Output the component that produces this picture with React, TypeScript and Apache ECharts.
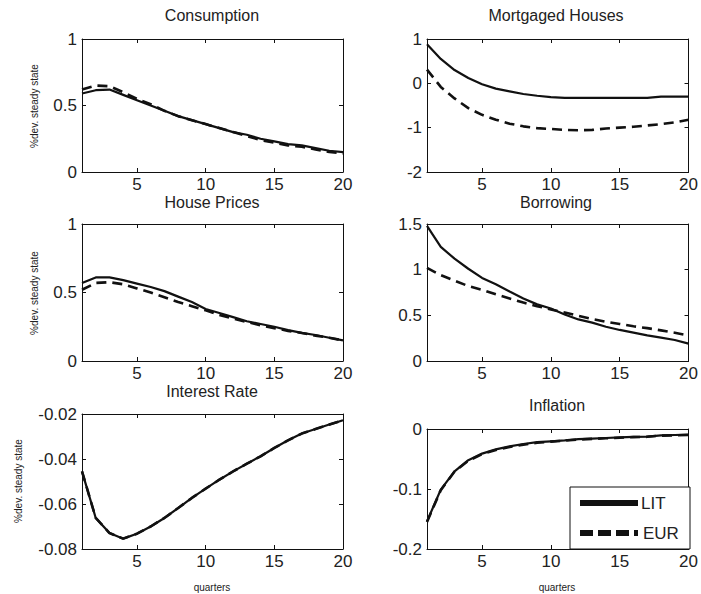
import React, { useEffect, useRef } from "react";
import * as echarts from "echarts";

const quarters = [1, 2, 3, 4, 5, 6, 7, 8, 9, 10, 11, 12, 13, 14, 15, 16, 17, 18, 19, 20];
const xTicks = [5, 10, 15, 20];

const consumptionLIT = [0.59, 0.615, 0.62, 0.58, 0.54, 0.5, 0.46, 0.42, 0.39, 0.36, 0.33, 0.3, 0.28, 0.25, 0.23, 0.21, 0.2, 0.18, 0.16, 0.15];
const consumptionEUR = [0.62, 0.65, 0.645, 0.6, 0.55, 0.51, 0.46, 0.42, 0.39, 0.36, 0.33, 0.3, 0.27, 0.24, 0.22, 0.2, 0.19, 0.17, 0.15, 0.14];

const mortgagedLIT = [0.88, 0.55, 0.3, 0.12, -0.02, -0.12, -0.18, -0.24, -0.28, -0.31, -0.33, -0.33, -0.33, -0.33, -0.33, -0.33, -0.33, -0.3, -0.3, -0.3];
const mortgagedEUR = [0.31, -0.08, -0.34, -0.56, -0.71, -0.82, -0.91, -0.97, -1.01, -1.03, -1.05, -1.06, -1.05, -1.02, -1.0, -0.98, -0.95, -0.92, -0.88, -0.82];

const housePricesLIT = [0.57, 0.61, 0.61, 0.59, 0.565, 0.54, 0.51, 0.47, 0.43, 0.38, 0.35, 0.32, 0.29, 0.27, 0.25, 0.225, 0.205, 0.19, 0.17, 0.15];
const housePricesEUR = [0.52, 0.57, 0.575, 0.56, 0.53, 0.5, 0.465, 0.43, 0.4, 0.37, 0.335, 0.31, 0.285, 0.26, 0.24, 0.22, 0.205, 0.185, 0.17, 0.15];

const borrowingLIT = [1.48, 1.25, 1.12, 1.01, 0.91, 0.84, 0.76, 0.685, 0.62, 0.575, 0.51, 0.455, 0.42, 0.375, 0.34, 0.31, 0.28, 0.255, 0.23, 0.19];
const borrowingEUR = [1.02, 0.94, 0.88, 0.82, 0.78, 0.73, 0.685, 0.64, 0.6, 0.565, 0.53, 0.495, 0.46, 0.43, 0.405, 0.38, 0.36, 0.335, 0.31, 0.28];

const interestLIT = [-0.0455, -0.0662, -0.0729, -0.0754, -0.0732, -0.07, -0.0662, -0.0618, -0.0573, -0.0532, -0.0492, -0.0455, -0.0421, -0.0388, -0.0351, -0.0317, -0.0287, -0.0267, -0.0247, -0.0228];
const interestEUR = [-0.0455, -0.0662, -0.0729, -0.0754, -0.0732, -0.07, -0.0662, -0.0618, -0.0573, -0.0532, -0.0492, -0.0455, -0.0421, -0.0388, -0.0351, -0.0317, -0.0287, -0.0267, -0.0247, -0.0228];

const inflationLIT = [-0.154, -0.101, -0.0706, -0.052, -0.041, -0.034, -0.029, -0.025, -0.022, -0.0205, -0.019, -0.017, -0.016, -0.015, -0.014, -0.013, -0.0128, -0.0105, -0.01, -0.0095];
const inflationEUR = [-0.155, -0.102, -0.071, -0.053, -0.042, -0.035, -0.03, -0.026, -0.023, -0.021, -0.0195, -0.0175, -0.0165, -0.0155, -0.0145, -0.0135, -0.013, -0.011, -0.0105, -0.01];

const panels = [
  { title: "Consumption", lit: consumptionLIT, eur: consumptionEUR, yMin: 0, yMax: 1, yInt: 0.5 },
  { title: "Mortgaged Houses", lit: mortgagedLIT, eur: mortgagedEUR, yMin: -2, yMax: 1, yInt: 1 },
  { title: "House Prices", lit: housePricesLIT, eur: housePricesEUR, yMin: 0, yMax: 1, yInt: 0.5 },
  { title: "Borrowing", lit: borrowingLIT, eur: borrowingEUR, yMin: 0, yMax: 1.5, yInt: 0.5 },
  { title: "Interest Rate", lit: interestLIT, eur: interestEUR, yMin: -0.08, yMax: -0.02, yInt: 0.02 },
  { title: "Inflation", lit: inflationLIT, eur: inflationEUR, yMin: -0.2, yMax: 0, yInt: 0.1 },
];

const grids = [
  { left: 82, top: 39, width: 261, height: 133 },
  { left: 427, top: 39, width: 263, height: 133 },
  { left: 82, top: 224, width: 261, height: 137 },
  { left: 427, top: 224, width: 263, height: 137 },
  { left: 82, top: 414, width: 261, height: 135 },
  { left: 427, top: 429, width: 263, height: 120 },
];

const titlePos = [
  [212, 15],
  [556, 15],
  [212, 202],
  [556, 202],
  [212, 391],
  [557, 405],
];

const FONT = "Liberation Sans, Arial, sans-serif";
const INK = "#111";

export default function App() {
  const ref = useRef<HTMLDivElement>(null);
  useEffect(() => {
    if (!ref.current) return;
    const chart = echarts.init(ref.current, null, { renderer: "svg" });
    const axisLine = { show: true, onZero: false, lineStyle: { color: INK, width: 1 } };
    const tick = { show: true, inside: true, length: 4, lineStyle: { color: INK } };
    const xAxes: any[] = [];
    const yAxes: any[] = [];
    const series: any[] = [];
    panels.forEach((p, i) => {
      xAxes.push({
        type: "value", gridIndex: i, min: 1, max: 20, position: "bottom",
        axisLine, axisTick: { ...tick, customValues: xTicks },
        axisLabel: { customValues: xTicks, fontSize: 17, fontFamily: FONT, color: "#222", margin: 4 },
        splitLine: { show: false },
      });
      yAxes.push({
        type: "value", gridIndex: i, min: p.yMin, max: p.yMax, interval: p.yInt, position: "left",
        axisLine, axisTick: tick,
        axisLabel: { fontSize: 17, fontFamily: FONT, color: "#222", margin: 5 },
        splitLine: { show: false },
      });
      series.push({
        type: "line", name: "LIT", xAxisIndex: i, yAxisIndex: i, showSymbol: false, symbol: "none",
        data: quarters.map((q, k) => [q, p.lit[k]]),
        lineStyle: { color: INK, width: 2.2 }, z: 3,
      });
      series.push({
        type: "line", name: "EUR", xAxisIndex: i, yAxisIndex: i, showSymbol: false, symbol: "none",
        data: quarters.map((q, k) => [q, p.eur[k]]),
        lineStyle: { color: INK, width: 2.6, type: [10, 6] }, z: 2,
      });
    });
    panels.forEach((p, i) => {
      xAxes.push({
        type: "value", gridIndex: i, min: 1, max: 20, position: "top",
        axisLine, axisTick: { ...tick, customValues: xTicks },
        axisLabel: { show: false }, splitLine: { show: false },
      });
      yAxes.push({
        type: "value", gridIndex: i, min: p.yMin, max: p.yMax, interval: p.yInt, position: "right",
        axisLine, axisTick: tick, axisLabel: { show: false }, splitLine: { show: false },
      });
    });

    const textEl = (text: string, x: number, y: number, size: number, rotation = 0, align = "center") => ({
      type: "text", x, y, rotation, z: 100,
      style: { text, fontSize: size, fontFamily: FONT, fill: "#222", align, verticalAlign: "middle" },
    });

    const graphic: any[] = [];
    panels.forEach((p, i) => graphic.push(textEl(p.title, titlePos[i][0], titlePos[i][1], 16)));
    graphic.push(textEl("%dev. steady state", 34, 106, 10, Math.PI / 2));
    graphic.push(textEl("%dev. steady state", 34, 293, 10, Math.PI / 2));
    graphic.push(textEl("%dev. steady state", 18, 481, 10, Math.PI / 2));
    graphic.push(textEl("quarters", 212, 587, 10));
    graphic.push(textEl("quarters", 557, 587, 10));
    // legend
    graphic.push({ type: "rect", z: 100, shape: { x: 570, y: 487, width: 120, height: 62 }, style: { fill: "#fff", stroke: INK, lineWidth: 1 } });
    graphic.push({ type: "line", z: 101, shape: { x1: 580, y1: 503, x2: 638, y2: 503 }, style: { stroke: INK, lineWidth: 6 } });
    graphic.push({ type: "line", z: 101, shape: { x1: 580, y1: 533, x2: 638, y2: 533 }, style: { stroke: INK, lineWidth: 6, lineDash: [13, 5] } });
    graphic.push({ ...textEl("LIT", 641, 503, 17, 0, "left"), z: 101 });
    graphic.push({ ...textEl("EUR", 643, 533, 17, 0, "left"), z: 101 });

    chart.setOption({
      animation: false,
      backgroundColor: "#fff",
      grid: grids.map((g) => ({ ...g, containLabel: false })),
      xAxis: xAxes,
      yAxis: yAxes,
      series,
      graphic,
    });
    return () => chart.dispose();
  }, []);
  return <div ref={ref} style={{ position: "fixed", left: 0, top: 0, width: 701, height: 594 }} />;
}
